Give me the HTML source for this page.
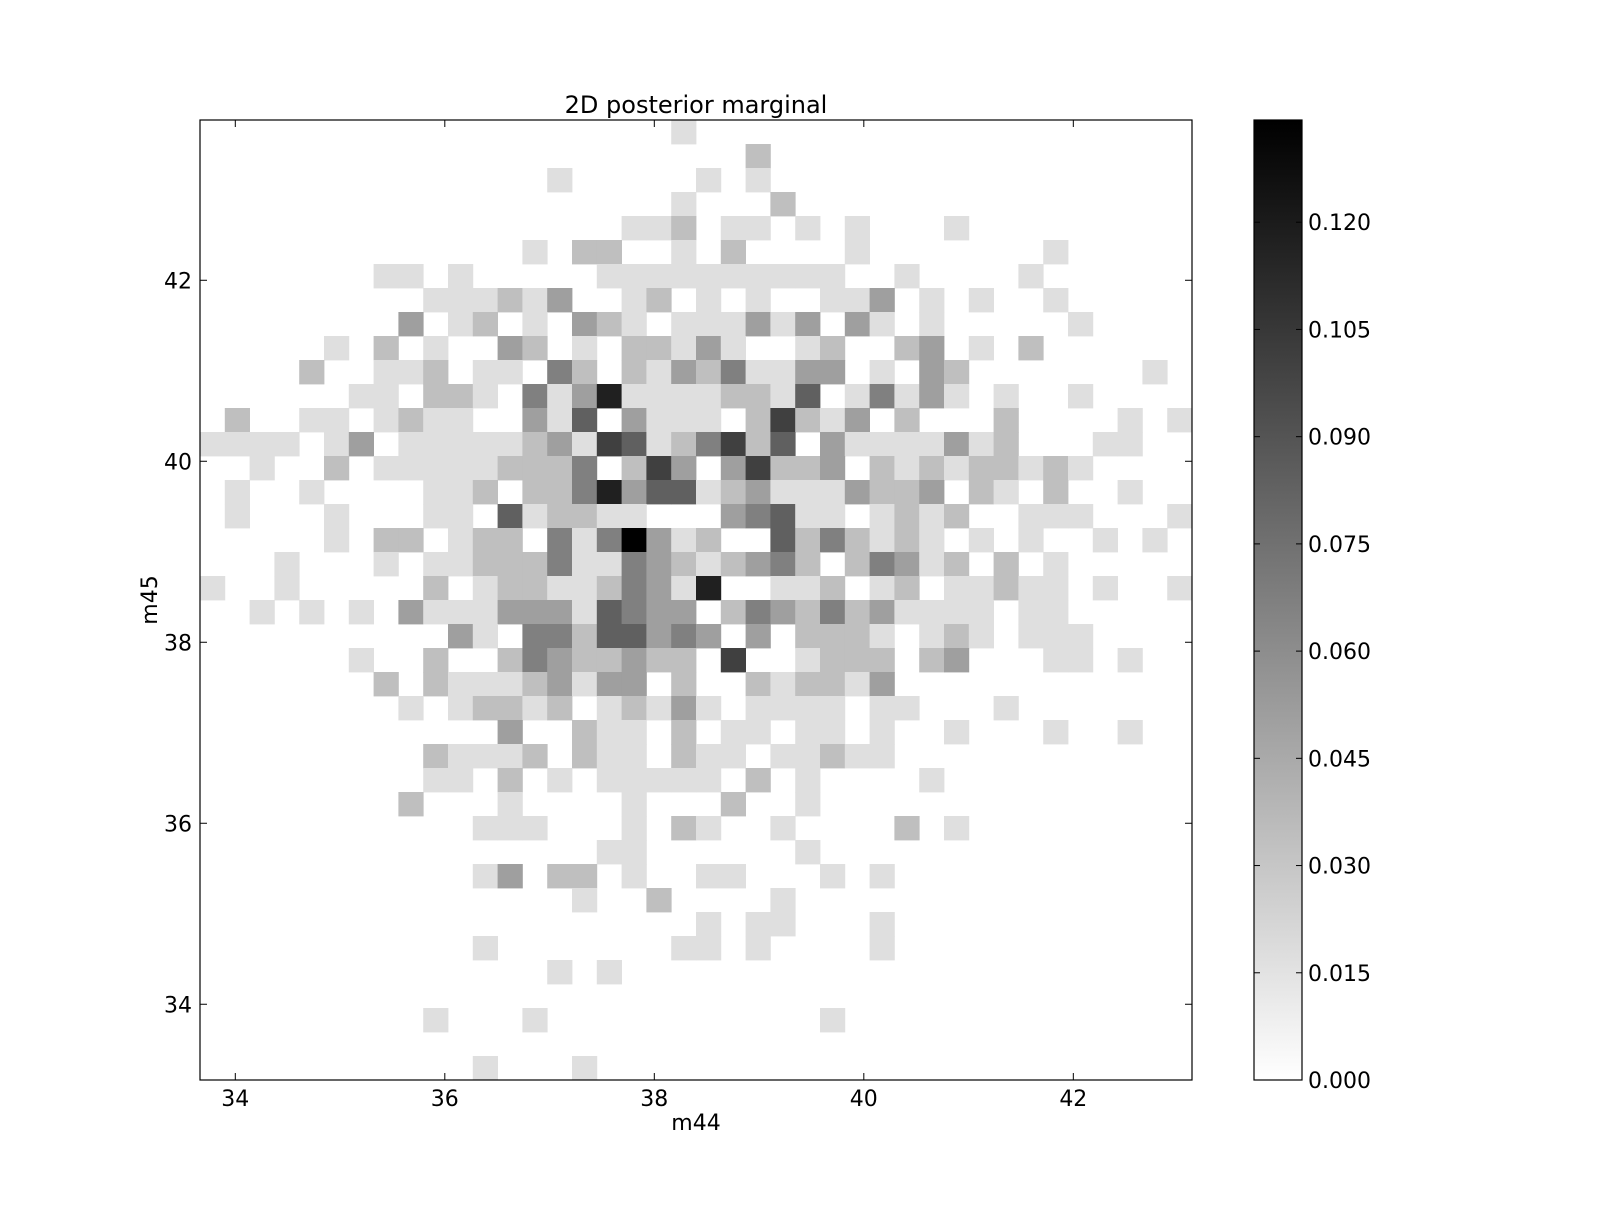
<!DOCTYPE html>
<html><head><meta charset="utf-8"><style>
html,body{margin:0;padding:0;background:#fff;}
svg text{font-family:"DejaVu Sans","Liberation Sans",sans-serif;fill:#000;}
</style></head>
<body>
<svg id="chart" width="1600" height="1200" viewBox="0 0 1600 1200" xmlns="http://www.w3.org/2000/svg">
<defs><linearGradient id="cbgrad" x1="0" y1="1" x2="0" y2="0"><stop offset="0" stop-color="#ffffff"/><stop offset="1" stop-color="#000000"/></linearGradient></defs>
<rect x="0" y="0" width="1600" height="1200" fill="#fff"/>
<g id="cells"></g>
<g id="axes"></g>
</svg>
<script>
const xDomain = [33.663, 43.133];
const yDomain = [33.163, 43.771];
const xTicks = [34, 36, 38, 40, 42];
const yTicks = [34, 36, 38, 40, 42];
const cbTicks = [0.000, 0.015, 0.030, 0.045, 0.060, 0.075, 0.090, 0.105, 0.120];
const vMax = 0.1343;
const countUnit = 0.1343 / 8;
// rows from top (high m45) to bottom, 40 bins each in m44
const counts = [
"0000000000000000000100000000000000000000",
"0000000000000000000000200000000000000000",
"0000000000000010000010100000000000000000",
"0000000000000000000100020000000000000000",
"0000000000000000011201101010001000000000",
"0000000000000102200102000010000000100000",
"0000000110100000111111111100100001000000",
"0000000001112130012010100113010100100000",
"0000000030120103210111313031010000010000",
"0000010201003201022131001200230102000000",
"0000200112011042021324113301032000000010",
"0000001102210413711112215014131010010000",
"0200110121100315031110262130200020000101",
"1111013011111231651246250311113120001100",
"0010020111112224026303622302121221210000",
"0100100001120224735512311132230210200100",
"0100010001105122110003451101212001110001",
"0000010220122041483120052421210101001010",
"0001000101122241143212342024312020100000",
"1001000002012211243170011201201121101001",
"0010101031113331543302432423111101100000",
"0000000000310442553430302221012101110000",
"0000001002002432232206001222023000110100",
"0000000202111231330200212213000000000000",
"0000000010122120121310111101100010000000",
"0000000000003002110201101101001000100100",
"0000000002111202110211011211000000000000",
"0000000001102010111110201000010000000000",
"0000000020001000010002001000000000000000",
"0000000000011100010210010000201000000000",
"0000000000000000110000001000000000000000",
"0000000000013022010011000101000000000000",
"0000000000000001002000010000000000000000",
"0000000000000000000010110001000000000000",
"0000000000010000000110100001000000000000",
"0000000000000010100000000000000000000000",
"0000000000000000000000000000000000000000",
"0000000001000100000000000100000000000000",
"0000000000000000000000000000000000000000",
"0000000000010001000000000000000000000000"
];
const title = "2D posterior marginal";
const xLabel = "m44";
const yLabel = "m45";

const NS = "http://www.w3.org/2000/svg";
const plot = {left:200, right:1192, top:120, bottom:1080};
const cb = {left:1254, right:1302, top:120, bottom:1080};
function sx(v){return plot.left + (v - xDomain[0])/(xDomain[1]-xDomain[0])*(plot.right-plot.left);}
function sy(v){return plot.bottom - (v - yDomain[0])/(yDomain[1]-yDomain[0])*(plot.bottom-plot.top);}
function cy(v){return cb.bottom - v/vMax*(cb.bottom-cb.top);}
function mk(tag, attrs, parent){const e=document.createElementNS(NS,tag);for(const k in attrs)e.setAttribute(k,attrs[k]);parent.appendChild(e);return e;}
function grayFor(val){const g=Math.round(255*(1-Math.min(val/vMax,1)));return `rgb(${g},${g},${g})`;}

const cellsG = document.getElementById('cells');
const nRows = counts.length, nCols = counts[0].length;
const dx = (xDomain[1]-xDomain[0])/nCols, dy = (yDomain[1]-yDomain[0])/nRows;
for (let r=0;r<nRows;r++){
  for (let c=0;c<nCols;c++){
    const n = +counts[r][c];
    if (!n) continue;
    const val = n*countUnit;
    const x0 = sx(xDomain[0]+c*dx), x1 = sx(xDomain[0]+(c+1)*dx);
    const yT = sy(yDomain[1]-r*dy), yB = sy(yDomain[1]-(r+1)*dy);
    const e = mk('rect',{x:x0.toFixed(2),y:yT.toFixed(2),width:(x1-x0+0.4).toFixed(2),height:(yB-yT+0.4).toFixed(2),fill:grayFor(val)},cellsG);
    
    
  }
}

const ax = document.getElementById('axes');
let fr = mk('rect',{x:plot.left,y:plot.top,width:plot.right-plot.left,height:plot.bottom-plot.top,fill:'none',stroke:'#000','stroke-width':1.2},ax);


xTicks.forEach(t=>{
  const x = sx(t);
  mk('line',{x1:x,y1:plot.bottom,x2:x,y2:plot.bottom-7,stroke:'#000','stroke-width':1},ax);
  mk('line',{x1:x,y1:plot.top,x2:x,y2:plot.top+7,stroke:'#000','stroke-width':1},ax);
  const tx = mk('text',{x:x,y:plot.bottom+26,'font-size':22,'text-anchor':'middle'},ax);
  tx.textContent = t;
  
  
});
yTicks.forEach(t=>{
  const y = sy(t);
  mk('line',{x1:plot.left,y1:y,x2:plot.left+7,y2:y,stroke:'#000','stroke-width':1},ax);
  mk('line',{x1:plot.right,y1:y,x2:plot.right-7,y2:y,stroke:'#000','stroke-width':1},ax);
  const tx = mk('text',{x:plot.left-8,y:y+8,'font-size':22,'text-anchor':'end'},ax);
  tx.textContent = t;
  
  
});
let tt = mk('text',{x:(plot.left+plot.right)/2,y:113,'font-size':24,'text-anchor':'middle'},ax);
tt.textContent = title;


let xl = mk('text',{x:(plot.left+plot.right)/2,y:1130,'font-size':22,'text-anchor':'middle'},ax);
xl.textContent = xLabel;


let yl = mk('text',{x:0,y:0,'font-size':22,'text-anchor':'middle',transform:`translate(157,${(plot.top+plot.bottom)/2}) rotate(-90)`},ax);
yl.textContent = yLabel;



let cbr = mk('rect',{x:cb.left,y:cb.top,width:cb.right-cb.left,height:cb.bottom-cb.top,fill:'url(#cbgrad)',stroke:'#000','stroke-width':1.2},ax);


cbTicks.forEach(t=>{
  const y = cy(t);
  mk('line',{x1:cb.right,y1:y,x2:cb.right-6,y2:y,stroke:'#000','stroke-width':1},ax);
  mk('line',{x1:cb.left,y1:y,x2:cb.left+6,y2:y,stroke:'#000','stroke-width':1},ax);
  const tx = mk('text',{x:cb.right+6,y:y+8,'font-size':22,'text-anchor':'start'},ax);
  tx.textContent = t.toFixed(3);
  
  
});
</script>
</body></html>
